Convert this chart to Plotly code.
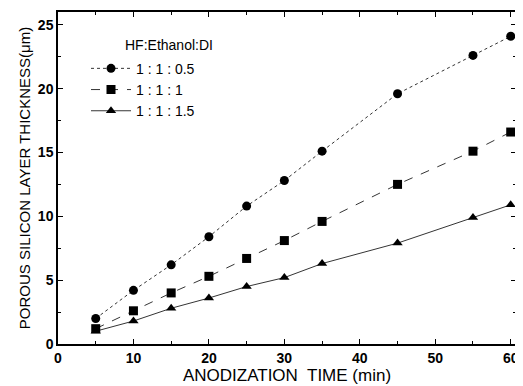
import plotly.graph_objects as go

time_min = [5, 10, 15, 20, 25, 30, 35, 45, 55, 60]
thick_05 = [2.0, 4.2, 6.2, 8.4, 10.8, 12.8, 15.1, 19.6, 22.6, 24.1]
thick_10 = [1.2, 2.6, 4.0, 5.3, 6.7, 8.1, 9.6, 12.5, 15.1, 16.6]
thick_15 = [1.0, 1.8, 2.8, 3.6, 4.5, 5.2, 6.3, 7.9, 9.9, 10.9]
names = ["1 : 1 : 0.5", "1 : 1 : 1", "1 : 1 : 1.5"]
symbols = ["circle", "square", "triangle-up"]
dashes = ["dot", "dash", "solid"]

fig = go.Figure()
for y, n, s, d in zip([thick_05, thick_10, thick_15], names, symbols, dashes):
    fig.add_trace(go.Scatter(
        x=time_min, y=y, name=n, mode="lines+markers",
        line=dict(color="black", width=0.8, dash=d),
        marker=dict(symbol=s, size=9, color="black"),
    ))

font = "Liberation Sans, Arial, sans-serif"
axis_common = dict(
    showline=True, linecolor="black", linewidth=1.5, mirror="ticks",
    ticks="inside", ticklen=5, tickwidth=1.2, tickcolor="black",
    showgrid=False, zeroline=False,
    tickfont=dict(family=font, size=14, color="black", weight="bold"),
)
fig.update_xaxes(range=[0, 60.7], dtick=10, tick0=0,
                 minor=dict(ticks="inside", dtick=5, ticklen=3, tickcolor="black"),
                 title=dict(text="ANODIZATION  TIME (min)", font=dict(family=font, size=17, color="black"), standoff=4),
                 **axis_common)
fig.update_yaxes(range=[0, 26], dtick=5, tick0=0,
                 minor=dict(ticks="inside", dtick=2.5, ticklen=3, tickcolor="black"),
                 title=dict(text="POROUS SILICON LAYER THICKNESS(μm)", font=dict(family=font, size=15, color="black"), standoff=4),
                 **axis_common)

fig.add_annotation(text="HF:Ethanol:DI", xref="paper", yref="paper",
                   x=(123 - 58) / 458, y=(344 - 43) / 334, xanchor="left", yanchor="middle",
                   showarrow=False, font=dict(family=font, size=14, color="black"))

fig.update_layout(
    width=515, height=378,
    margin=dict(l=50, r=7, t=2, b=42),
    paper_bgcolor="white", plot_bgcolor="white",
    showlegend=True,
    legend=dict(x=(86 - 58) / 458, y=(344 - 51) / 334, xanchor="left", yanchor="top",
                bgcolor="rgba(0,0,0,0)", font=dict(family=font, size=14, color="black"),
                tracegroupgap=0, itemwidth=40),
)

fig.write_html("out.html")
